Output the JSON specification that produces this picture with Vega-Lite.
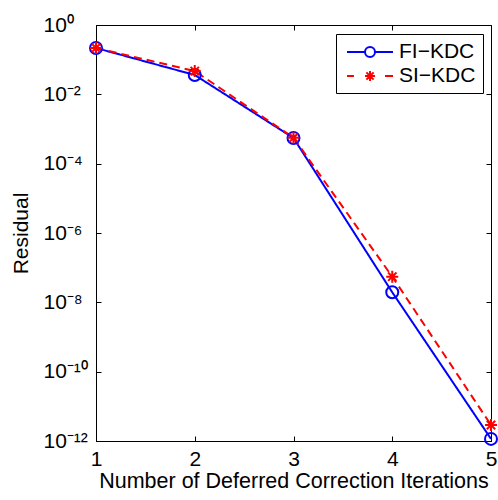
{
  "$schema": "https://vega.github.io/schema/vega-lite/v6.json",
  "width": 395,
  "height": 416,
  "autosize": "none",
  "padding": {"left": 96, "top": 25, "right": 7, "bottom": 59},
  "background": "white",
  "config": {
    "view": {"stroke": "black", "strokeWidth": 1},
    "font": "Liberation Sans",
    "axis": {"grid": false, "domainColor": "black", "tickColor": "black", "labelColor": "black", "titleColor": "black", "titleFontWeight": "normal", "labelFont": "Liberation Sans", "titleFont": "Liberation Sans"}
  },
  "data": {
    "values": [
      {"iter": 1, "residual": 0.217, "method": "FI-KDC"},
      {"iter": 2, "residual": 0.0361, "method": "FI-KDC"},
      {"iter": 3, "residual": 0.00055, "method": "FI-KDC"},
      {"iter": 4, "residual": 1.95e-8, "method": "FI-KDC"},
      {"iter": 5, "residual": 1.15e-12, "method": "FI-KDC"},
      {"iter": 1, "residual": 0.217, "method": "SI-KDC"},
      {"iter": 2, "residual": 0.047, "method": "SI-KDC"},
      {"iter": 3, "residual": 0.00056, "method": "SI-KDC"},
      {"iter": 4, "residual": 5.5e-8, "method": "SI-KDC"},
      {"iter": 5, "residual": 2.9e-12, "method": "SI-KDC"}
    ]
  },
  "layer": [
    {
      "mark": {"type": "line", "strokeWidth": 2, "clip": false},
      "encoding": {
        "x": {"field": "iter", "type": "quantitative", "scale": {"domain": [1, 5], "nice": false, "zero": false},
          "axis": {"values": [1, 2, 3, 4, 5], "title": "Number of Deferred Correction Iterations", "titleFontSize": 21.5, "labelFontSize": 21, "tickSize": -5, "labelPadding": 12, "titlePadding": 1, "labelFlush": false, "labelOverlap": false, "labelBound": false, "format": "d"}},
        "y": {"field": "residual", "type": "quantitative", "scale": {"type": "log", "domain": [1e-12, 1], "nice": false},
          "axis": {"values": [1, 0.01, 0.0001, 1e-6, 1e-8, 1e-10, 1e-12], "title": "Residual", "titleFontSize": 21, "labelFontSize": 21, "tickSize": -5, "labelAlign": "left", "labelPadding": 58, "titlePadding": 12, "labelFlush": false, "labelOverlap": false, "labelBound": false,
            "labelExpr": "'10' + (round(log(datum.value)/LN10) == 0 ? '⁰' : round(log(datum.value)/LN10) == -2 ? '⁻²' : round(log(datum.value)/LN10) == -4 ? '⁻⁴' : round(log(datum.value)/LN10) == -6 ? '⁻⁶' : round(log(datum.value)/LN10) == -8 ? '⁻⁸' : round(log(datum.value)/LN10) == -10 ? '⁻¹⁰' : '⁻¹²')"}},
        "color": {"field": "method", "type": "nominal", "scale": {"domain": ["FI-KDC", "SI-KDC"], "range": ["#0000ff", "#ff0000"]}, "legend": null},
        "strokeDash": {"field": "method", "type": "nominal", "scale": {"domain": ["FI-KDC", "SI-KDC"], "range": [[1, 0], [8, 5]]}, "legend": null}
      }
    },
    {
      "mark": {"type": "point", "filled": false, "strokeWidth": 2, "size": 144, "opacity": 1, "clip": false},
      "encoding": {
        "x": {"field": "iter", "type": "quantitative", "axis": {"orient": "top", "values": [1, 2, 3, 4, 5], "labels": false, "title": null, "tickSize": -5, "domain": false}},
        "y": {"field": "residual", "type": "quantitative", "axis": {"orient": "right", "values": [1, 0.01, 0.0001, 1e-6, 1e-8, 1e-10, 1e-12], "labels": false, "title": null, "tickSize": -5, "domain": false}},
        "color": {"field": "method", "type": "nominal", "scale": {"domain": ["FI-KDC", "SI-KDC"], "range": ["#0000ff", "#ff0000"]}, "legend": null},
        "shape": {"field": "method", "type": "nominal", "scale": {"domain": ["FI-KDC", "SI-KDC"], "range": ["M1,0A1,1 0 1,1 -1,0A1,1 0 1,1 1,0Z", "M0,-1V1M-1,0H1M-0.7,-0.7L0.7,0.7M-0.7,0.7L0.7,-0.7"]}, "legend": null}
      }
    },
    {
      "transform": [{"filter": "datum.iter > 100"}],
      "mark": {"type": "point", "filled": false, "strokeWidth": 2, "opacity": 1},
      "encoding": {
        "x": {"field": "iter", "type": "quantitative", "axis": null},
        "y": {"field": "residual", "type": "quantitative", "axis": null},
        "color": {"field": "method", "type": "nominal", "scale": {"domain": ["FI-KDC", "SI-KDC"], "range": ["#0000ff", "#ff0000"]},
          "legend": {"title": null, "orient": "none", "legendX": 240, "legendY": 9, "strokeColor": "black", "fillColor": "white", "padding": 7, "symbolSize": 400, "symbolOffset": 16, "symbolStrokeWidth": 2, "symbolOpacity": 1, "symbolFillColor": "transparent", "labelFontSize": 21, "labelFont": "Liberation Sans", "labelColor": "black", "labelOffset": 18, "rowPadding": 3,
            "labelExpr": "replace(datum.label, '-', '−')"}},
        "shape": {"field": "method", "type": "nominal",
          "scale": {"domain": ["FI-KDC", "SI-KDC"], "range": ["M-2.3,0H-0.5M0.5,0H2.3M0.5,0A0.5,0.5 0 1,1 -0.5,0A0.5,0.5 0 1,1 0.5,0", "M-2.3,0H-1.6M1.5,0H2.3M0,-0.5V0.5M-0.5,0H0.5M-0.36,-0.36L0.36,0.36M-0.36,0.36L0.36,-0.36"]},
          "legend": {"title": null, "orient": "none", "legendX": 240, "legendY": 9, "strokeColor": "black", "fillColor": "white", "padding": 7, "symbolSize": 400, "symbolOffset": 16, "symbolStrokeWidth": 2, "symbolOpacity": 1, "symbolFillColor": "transparent", "labelFontSize": 21, "labelFont": "Liberation Sans", "labelColor": "black", "labelOffset": 18, "rowPadding": 3,
            "labelExpr": "replace(datum.label, '-', '−')"}}
      }
    }
  ],
  "resolve": {"scale": {"shape": "independent", "color": "independent"}, "axis": {"x": "independent", "y": "independent"}}
}
